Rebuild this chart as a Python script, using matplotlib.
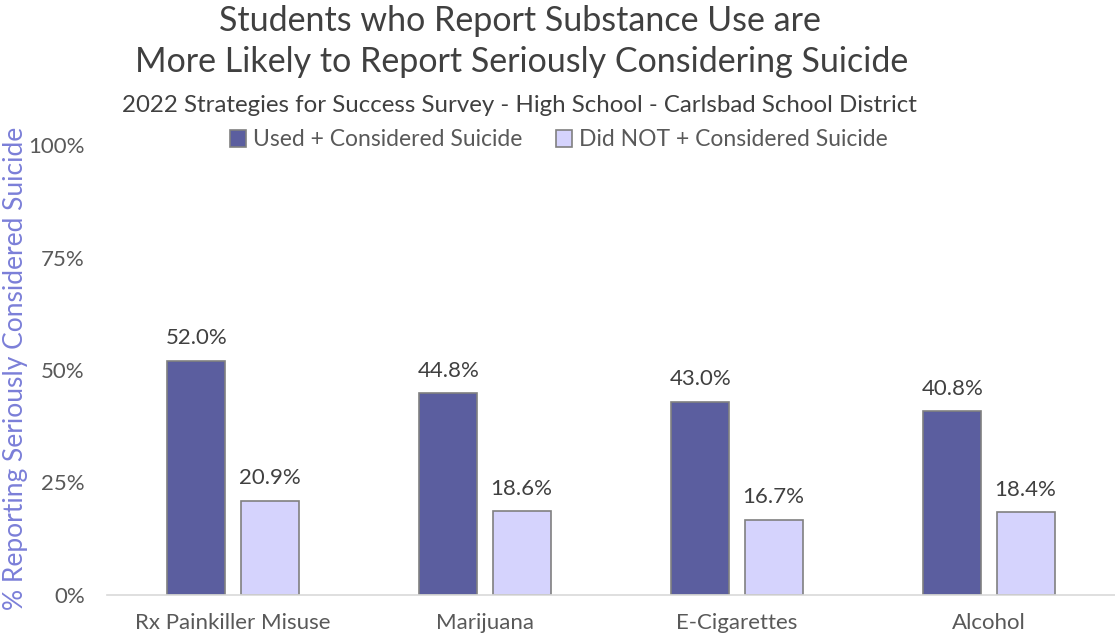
import matplotlib.pyplot as plt
import numpy as np

categories = ["Rx Painkiller Misuse", "Marijuana", "E-Cigarettes", "Alcohol"]
used = [52.0, 44.8, 43.0, 40.8]
did_not = [20.9, 18.6, 16.7, 18.4]
series_names = ["Used + Considered Suicide", "Did NOT + Considered Suicide"]
yticks = [0, 25, 50, 75, 100]

plt.rcParams['font.family'] = ['Lato', 'DejaVu Sans']

dark = "#5B5E9F"
light = "#D5D3FD"
edge = "#808080"
text_col = "#404040"

fig = plt.figure(figsize=(11.15, 6.34), dpi=100)
ax = fig.add_axes([107 / 1115, 1 - 595 / 634, 1008 / 1115, 450 / 634])

x = np.arange(len(categories))
w = 0.23
off = 0.145
b1 = ax.bar(x - off, used, w, color=dark, edgecolor=edge, linewidth=1.2, label=series_names[0])
b2 = ax.bar(x + off, did_not, w, color=light, edgecolor=edge, linewidth=1.2, label=series_names[1])

# value labels above each bar
for bars in (b1, b2):
    for r in bars:
        ax.annotate(f"{r.get_height():.1f}%", (r.get_x() + r.get_width() / 2, r.get_height()),
                    xytext=(0, 9), textcoords="offset points", ha="center", va="bottom",
                    fontsize=16, color=text_col)

ax.set_xlim(-0.5, len(categories) - 0.5)
ax.set_ylim(0, 100)
ax.set_yticks(yticks)
ax.set_yticklabels([f"{t}%" for t in yticks])
ax.set_xticks(x)
ax.set_xticklabels(categories)
ax.tick_params(axis="both", length=0, labelsize=16, labelcolor="#595959")
ax.tick_params(axis="x", pad=13)
ax.tick_params(axis="y", pad=16)
for s in ["top", "right", "left"]:
    ax.spines[s].set_visible(False)
ax.spines["bottom"].set_color("#D9D9D9")
ax.spines["bottom"].set_linewidth(1.2)

fig.text(3 / 1115, 1 - 368 / 634, "% Reporting Seriously Considered Suicide", rotation=90,
         ha="left", va="center", fontsize=19, color="#7B7FD8")

fig.text(520 / 1115, 1 - 21 / 634, "Students who Report Substance Use are", ha="center", va="center",
         fontsize=24.5, color=text_col)
fig.text(522 / 1115, 1 - 62 / 634, "More Likely to Report Seriously Considering Suicide", ha="center",
         va="center", fontsize=24.5, color=text_col)
fig.text(519 / 1115, 1 - 105 / 634,
         "2022 Strategies for Success Survey - High School - Carlsbad School District",
         ha="center", va="center", fontsize=17.3, color=text_col)

fig.legend(handles=[b1, b2], loc="center", bbox_to_anchor=(559 / 1115, 1 - 140 / 634), ncol=2,
           frameon=False, fontsize=16.5, handlelength=0.7, handleheight=0.7, handletextpad=0.3,
           columnspacing=1.45, labelcolor="#595959")

fig.savefig("out.png", dpi=100)
